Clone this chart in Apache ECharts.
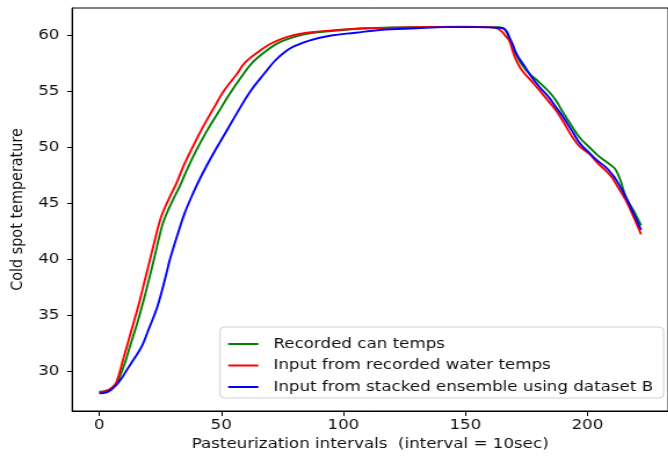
<!DOCTYPE html>
<html><head><meta charset="utf-8">
<script src="https://cdn.jsdelivr.net/npm/echarts@6/dist/echarts.min.js"></script>
<style>
html,body{margin:0;padding:0;background:#fff;overflow:hidden;width:668px;height:459px}
#c{width:576px;height:459px;transform:scaleX(1.16);transform-origin:0 0}
</style>
</head><body><div id="c"></div>
<script>
const xTicks = [0, 50, 100, 150, 200];
const yTicks = [30, 35, 40, 45, 50, 55, 60];
const seriesNames = ['Recorded can temps', 'Input from recorded water temps', 'Input from stacked ensemble using dataset B'];

const greenX = [0,3,5,7,10,13,16,19,22,25.8,27.5,30,33,36,40,44,48.8,53,58.7,63,68.5,73,78,85,95,110,130,150,163,165.5,167,168.5,170,172.7,176,180.2,184,187,190,193.8,197,200.7,204,207,209.5,211.5,213.6,215,216.3,219,222];
const greenY = [28.15,28.25,28.45,28.85,30.4,32.5,34.6,37.0,39.6,43.0,44.0,45.2,46.5,48.0,49.8,51.4,53.1,54.6,56.4,57.6,58.6,59.25,59.7,60.1,60.35,60.6,60.7,60.7,60.7,60.6,60.2,59.5,58.6,57.5,56.6,55.8,55.0,54.2,53.1,51.8,50.8,50.0,49.3,48.8,48.4,48.0,47.0,46.0,45.3,44.3,43.0];

const redX = [0,3,5,7,10,13,16,19,22,24.8,26.5,29,31.7,34.5,38.5,42,46.7,51,56.3,60,65.8,70,75.3,80,85,95,110,130,150,160,163,165,166.5,168,169.5,170.7,173,177,180.2,184,187,190,193.8,197,200.7,204,207.5,210,212,215.6,218,222];
const redY = [28.1,28.25,28.5,29.0,31.2,33.5,35.8,38.4,41.0,43.4,44.4,45.6,46.8,48.3,50.1,51.6,53.4,55.0,56.5,57.6,58.6,59.2,59.7,60.0,60.2,60.4,60.6,60.7,60.75,60.7,60.6,60.3,59.9,59.5,58.5,57.8,56.9,55.9,55.1,54.1,53.3,52.3,50.9,50.0,49.4,48.6,47.9,47.3,46.6,45.3,44.2,42.2];

const blueX = [0,3,5,7,9,11.3,14,17.4,20,23.6,25.6,27.5,29,32.4,35,38.5,42,46.7,51,56.9,62,67.8,72,76.7,81,86,95,105,115,130,142,155,163,165.5,167,168,169.3,171,174,177,180.2,184,187,190,193.8,197,200.7,204,207.5,210,212,215.6,218,222];
const blueY = [28.0,28.1,28.35,28.75,29.3,30.1,31.0,32.2,33.6,35.6,37.1,38.7,40.0,42.4,44.1,45.9,47.5,49.4,51.0,53.2,55.0,56.6,57.7,58.6,59.1,59.5,59.95,60.2,60.45,60.6,60.7,60.7,60.65,60.6,60.3,59.8,59.2,58.3,57.3,56.3,55.4,54.5,53.6,52.7,51.4,50.3,49.5,48.8,48.2,47.6,47.0,45.6,44.5,42.6];

const pairs = (xs, ys) => xs.map((x, i) => [x, ys[i]]);
const FONT = 'DejaVu Sans';
const FS = 14.4;
const chart = echarts.init(document.getElementById('c'), null, {renderer: 'canvas'});
const mk = (name, xs, ys, color) => ({
  name, type: 'line', data: pairs(xs, ys), showSymbol: false, symbol: 'none',
  smooth: 0.4,
  lineStyle: {color, width: 1.9}, itemStyle: {color}, animation: false
});
chart.setOption({
  animation: false,
  backgroundColor: '#fff',
  grid: {left: 61.6, top: 8, width: 515.5, height: 403, show: true, borderColor: '#000', borderWidth: 1, backgroundColor: 'transparent'},
  xAxis: {
    type: 'value', min: -11.1, max: 233.1,
    name: 'Pasteurization intervals  (interval = 10sec)', nameLocation: 'middle', nameGap: 23,
    nameTextStyle: {fontFamily: FONT, fontSize: FS, color: '#111'},
    axisLine: {show: true, onZero: false, lineStyle: {color: '#000', width: 1}},
    axisTick: {show: true, length: 5, lineStyle: {color: '#000'}, customValues: xTicks},
    axisLabel: {fontFamily: FONT, fontSize: FS, color: '#111', margin: 7, customValues: xTicks},
    splitLine: {show: false}
  },
  yAxis: {
    type: 'value', min: 26.43, max: 62.41,
    name: 'Cold spot temperature', nameLocation: 'middle', nameGap: 33,
    nameTextStyle: {fontFamily: FONT, fontSize: FS, color: '#111'},
    axisLine: {show: true, onZero: false, lineStyle: {color: '#000', width: 1}},
    axisTick: {show: true, length: 4.3, lineStyle: {color: '#000'}, customValues: yTicks},
    axisLabel: {fontFamily: FONT, fontSize: FS, color: '#111', margin: 11, customValues: yTicks},
    splitLine: {show: false}
  },
  legend: {
    orient: 'vertical', left: 189.7, top: 327,
    data: seriesNames,
    icon: 'rect', itemWidth: 26, itemHeight: 2, itemGap: 7.5,
    padding: [10, 9, 4, 7],
    borderColor: '#d0d0d0', borderWidth: 1, borderRadius: 4, backgroundColor: 'rgba(255,255,255,0.8)',
    textStyle: {fontFamily: FONT, fontSize: FS, color: '#111', padding: [0, 0, 0, 8]}
  },
  series: [
    mk(seriesNames[0], greenX, greenY, '#008000'),
    mk(seriesNames[1], redX, redY, '#ff0000'),
    mk(seriesNames[2], blueX, blueY, '#0000ff')
  ]
});
</script></body></html>
